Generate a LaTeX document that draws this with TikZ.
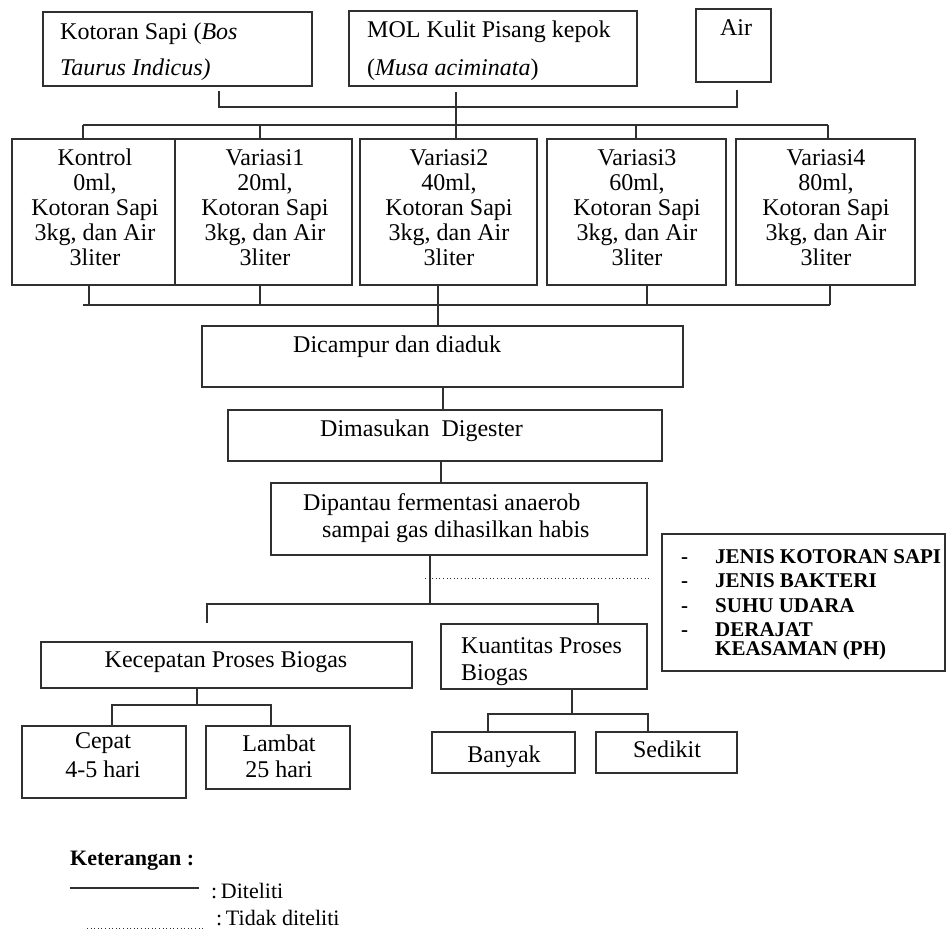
\documentclass[tikz,border=0pt]{standalone}
\usepackage{fontspec}
\setmainfont{Liberation Serif}
\usetikzlibrary{fit}
\definecolor{ln}{HTML}{303030}
\begin{document}
\begin{tikzpicture}[x=1pt,y=-1pt,
  box/.style={draw=ln, line width=1.5pt, inner sep=0pt},
  conn/.style={draw=ln, line width=1.5pt},
  dots/.style={draw=ln, line width=1pt, dash pattern=on 1pt off 2.6pt},
  tx/.style={inner sep=0pt, font=\fontsize{24}{25}\selectfont},
  ctx/.style={tx, align=center, anchor=base},
  ltx/.style={tx, anchor=base west},
  fk/.style={inner sep=0pt, anchor=base west, font=\fontsize{21}{24}\selectfont\bfseries},
  lg/.style={inner sep=0pt, anchor=base west, font=\fontsize{22}{24}\selectfont}]
\useasboundingbox (0,0) rectangle (948,930);

% ---------- boxes ----------
\node[box, fit={(43,12) (312,86)}] (b1) {};
\node[box, fit={(349,11) (637,86)}] (bmol) {};
\node[box, fit={(696,9) (771,82)}] (bair) {};
\node[box, fit={(12,139) (175,285)}] (k0) {};
\node[box, fit={(175,139) (352,285)}] (v1) {};
\node[box, fit={(360,139) (537,285)}] (v2) {};
\node[box, fit={(547,139) (726,285)}] (v3) {};
\node[box, fit={(736,139) (915,285)}] (v4) {};
\node[box, fit={(202,326) (683,387)}] (mix) {};
\node[box, fit={(228,410) (662,461)}] (dig) {};
\node[box, fit={(271,483) (647,555)}] (mon) {};
\node[box, fit={(662,534) (945,671)}] (fak) {};
\node[box, fit={(41,642) (412,688)}] (kec) {};
\node[box, fit={(441,624) (647,689)}] (kua) {};
\node[box, fit={(22,726) (186,798)}] (cep) {};
\node[box, fit={(206,726) (350,789)}] (lam) {};
\node[box, fit={(432,732) (575,773)}] (ban) {};
\node[box, fit={(596,732) (737,773)}] (sed) {};

% ---------- texts ----------
\node[ltx] (t1a) at (60,39) {Kotoran Sapi (\textit{Bos}};
\node[ltx] (t1b) at (60,75) {\textit{Taurus Indicus)}};
\node[ltx] (t2a) at (367,37) {MOL Kulit Pisang kepok};
\node[ltx] (t2b) at (367,75) {(\textit{Musa aciminata})};
\node[ctx] (t3) at (736,35) {Air};
\node[ctx] (tk0) at (95,265) {Kontrol\\0ml,\\Kotoran Sapi\\3kg, dan Air\\3liter};
\node[ctx] (tv1) at (265,265) {Variasi1\\20ml,\\Kotoran Sapi\\3kg, dan Air\\3liter};
\node[ctx] (tv2) at (449,265) {Variasi2\\40ml,\\Kotoran Sapi\\3kg, dan Air\\3liter};
\node[ctx] (tv3) at (637,265) {Variasi3\\60ml,\\Kotoran Sapi\\3kg, dan Air\\3liter};
\node[ctx] (tv4) at (826,265) {Variasi4\\80ml,\\Kotoran Sapi\\3kg, dan Air\\3liter};
\node[ltx] (tmix) at (293,352) {Dicampur dan diaduk};
\node[ltx] (tdig) at (320,436) {Dimasukan\ \ Digester};
\node[ltx] (tmon1) at (303,510) {Dipantau fermentasi anaerob};
\node[ltx] (tmon2) at (322,537) {sampai gas dihasilkan habis};
\node[fk] (d1) at (681,563) {-};
\node[fk] (f1) at (715,563) {JENIS KOTORAN SAPI};
\node[fk] (d2) at (681,587) {-};
\node[fk] (f2) at (715,587) {JENIS BAKTERI};
\node[fk] (d3) at (681,612) {-};
\node[fk] (f3) at (715,612) {SUHU UDARA};
\node[fk] (d4) at (681,636) {-};
\node[fk] (f4) at (715,636) {DERAJAT};
\node[fk] (f5) at (715,655) {KEASAMAN (PH)};
\node[ctx] (tkec) at (226,667) {Kecepatan Proses Biogas};
\node[ltx] (tkua1) at (461,653) {Kuantitas Proses};
\node[ltx] (tkua2) at (461,680) {Biogas};
\node[ctx, font=\fontsize{24}{29}\selectfont] (tcep) at (103,777) {Cepat\\4-5 hari};
\node[ctx, font=\fontsize{24}{26}\selectfont] (tlam) at (279,777) {Lambat\\25 hari};
\node[ctx] (tban) at (504,762) {Banyak};
\node[ctx] (tsed) at (667,757) {Sedikit};

% ---------- connectors ----------
\coordinate (a1) at (219,91);
\coordinate (a2) at (219,107);
\coordinate (a3) at (737,90);
\coordinate (a4) at (737,107);
\coordinate (m1) at (456,92);
\draw[conn] (a1) -- (a2) -- (a4) -- (a3);
\draw[conn] (m1) -- (m1 |- v2.north);
\coordinate (h1) at (83,125);
\coordinate (h2) at (260,125);
\coordinate (h3) at (636,125);
\coordinate (h4) at (828,125);
\draw[conn] (h1) -- (h4);
\draw[conn] (h1) -- (h1 |- k0.north);
\draw[conn] (h2) -- (h2 |- v1.north);
\draw[conn] (h3) -- (h3 |- v3.north);
\draw[conn] (h4) -- (h4 |- v4.north);

\coordinate (g1) at (89,305);
\coordinate (g2) at (260,305);
\coordinate (g3) at (438,305);
\coordinate (g4) at (647,305);
\coordinate (g5) at (830,305);
\coordinate (g0) at (83,305);
\draw[conn] (g0) -- (g5);
\draw[conn] (g1 |- k0.south) -- (g1);
\draw[conn] (g2 |- v1.south) -- (g2);
\draw[conn] (g3 |- v2.south) -- (g3 |- mix.north);
\draw[conn] (g4 |- v3.south) -- (g4);
\draw[conn] (g5 |- v4.south) -- (g5);

\coordinate (x1) at (443,387);
\draw[conn] (x1) -- (x1 |- dig.north);
\coordinate (x2) at (441,461);
\draw[conn] (x2) -- (x2 |- mon.north);
\coordinate (x3) at (430,555);
\coordinate (x4) at (430,604);
\coordinate (s1) at (207,604);
\coordinate (s2) at (598,604);
\coordinate (s1e) at (207,623);
\draw[conn] (x3) -- (x4);
\draw[conn] (s1e) -- (s1) -- (s2) -- (s2 |- kua.north);
\coordinate (dt1) at (425,578);
\coordinate (dt2) at (651,578);
\draw[dots] (dt1) -- (dt2);

\coordinate (y1) at (197,688);
\coordinate (y2) at (197,705);
\coordinate (y3) at (112,705);
\coordinate (y4) at (271,705);
\draw[conn] (y1) -- (y2);
\draw[conn] (y3 |- cep.north) -- (y3) -- (y4) -- (y4 |- lam.north);
\coordinate (z1) at (572,689);
\coordinate (z2) at (572,714);
\coordinate (z3) at (488,714);
\coordinate (z4) at (648,714);
\draw[conn] (z1) -- (z2);
\draw[conn] (z3 |- ban.north) -- (z3) -- (z4) -- (z4 |- sed.north);

% ---------- legend ----------
\node[lg, font=\fontsize{22}{24}\selectfont\bfseries] (ket) at (70,865) {Keterangan :};
\coordinate (l1) at (70,888);
\coordinate (l2) at (199,888);
\draw[draw=ln, line width=1.4pt] (l1) -- (l2);
\node[lg] (dit) at (211,898) {:\,Diteliti};
\coordinate (l3) at (87,928);
\coordinate (l4) at (204,928);
\draw[dots] (l3) -- (l4);
\node[lg] (tdit) at (216,925) {:\,Tidak diteliti};
\end{tikzpicture}
\end{document}
